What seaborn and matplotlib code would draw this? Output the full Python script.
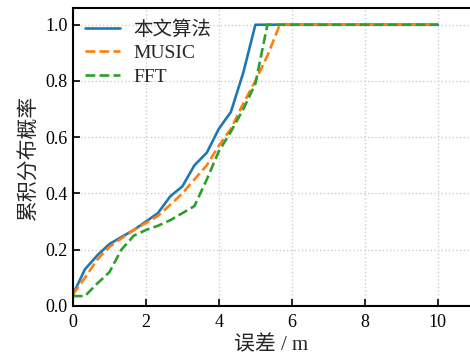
import numpy as np
import pandas as pd
import seaborn as sns
import matplotlib.pyplot as plt

# error (m) and cumulative probability for each method
x_ours = [0, 0.33, 0.67, 1.0, 1.33, 1.67, 2.0, 2.33, 2.67, 3.0, 3.33, 3.67, 4.0, 4.33, 4.67, 5.0, 10]
y_ours = [0.04, 0.13, 0.18, 0.22, 0.245, 0.27, 0.30, 0.33, 0.39, 0.425, 0.50, 0.545, 0.63, 0.69, 0.83, 1.0, 1.0]

x_music = [0, 0.33, 0.67, 1.0, 1.33, 1.67, 2.0, 2.33, 2.67, 3.0, 3.33, 3.67, 4.0, 4.33, 4.67, 5.0, 5.33, 5.67, 10]
y_music = [0.04, 0.10, 0.165, 0.21, 0.24, 0.27, 0.295, 0.32, 0.36, 0.40, 0.45, 0.50, 0.57, 0.63, 0.72, 0.80, 0.89, 1.0, 1.0]

x_fft = [0, 0.33, 0.67, 1.0, 1.33, 1.67, 2.0, 2.33, 2.67, 3.0, 3.33, 3.67, 4.0, 4.33, 4.67, 5.0, 5.33, 10]
y_fft = [0.035, 0.035, 0.08, 0.12, 0.20, 0.25, 0.27, 0.285, 0.305, 0.33, 0.355, 0.45, 0.55, 0.62, 0.70, 0.79, 1.0, 1.0]

sns.set_style("ticks")
plt.rcParams['font.family'] = ['Liberation Serif', 'Noto Sans CJK SC', 'DejaVu Sans']
plt.rcParams['axes.unicode_minus'] = False

fig = plt.figure(figsize=(4.7, 3.57), dpi=100)
ax = fig.add_axes([0.155, 0.143, 0.845, 0.835])

pal = sns.color_palette("tab10")
sns.lineplot(x=x_ours, y=y_ours, ax=ax, color=pal[0], lw=1.9, label='本文算法', sort=False)
sns.lineplot(x=x_music, y=y_music, ax=ax, color=pal[1], lw=1.9, ls='--', label='MUSIC', sort=False)
sns.lineplot(x=x_fft, y=y_fft, ax=ax, color=pal[2], lw=1.9, ls='--', label='FFT', sort=False)

ax.set_xlim(0, 10.88)
ax.set_ylim(0, 1.06)
ax.set_xticks([0, 2, 4, 6, 8, 10])
ax.set_yticks([0.0, 0.2, 0.4, 0.6, 0.8, 1.0])
ax.set_yticklabels(['0.0', '0.2', '0.4', '0.6', '0.8', '1.0'])
ax.grid(True, ls=':', color='#cccccc', lw=1)
ax.tick_params(direction='in', labelsize=13, length=5, width=1.2, colors='black')
ax.tick_params(axis='x', pad=6)
for s in ['left', 'bottom', 'top']:
    ax.spines[s].set_linewidth(1.5)
    ax.spines[s].set_color('black')
ax.spines['right'].set_visible(False)

ax.set_xlabel('误差 / m', fontsize=15, labelpad=3)
ax.set_ylabel('累积分布概率', fontsize=15, labelpad=4)
ax.legend(loc='upper left', frameon=False, fontsize=14, handlelength=1.8,
          handletextpad=0.7, borderaxespad=0.0, labelspacing=0.3,
          bbox_to_anchor=(0.01, 0.985))

fig.savefig('out.png', dpi=100)
